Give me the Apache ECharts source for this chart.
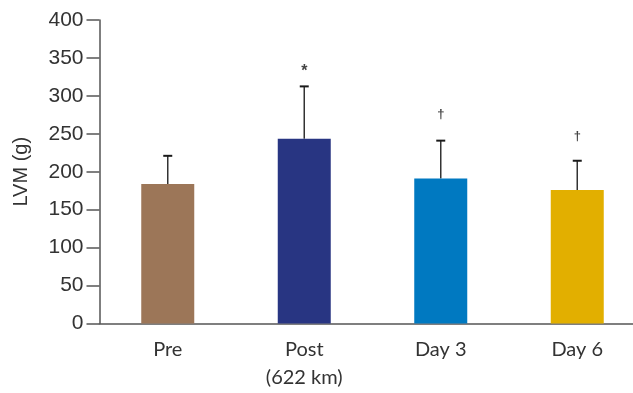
<!DOCTYPE html>
<html><head><meta charset="utf-8">
<script src="https://cdn.jsdelivr.net/npm/echarts@6/dist/echarts.min.js"></script>
<style>html,body{margin:0;padding:0;background:#fff}#c{width:633px;height:393px}</style>
</head><body><div id="c"></div>
<script>
var categories = ['Pre', 'Post\n(622 km)', 'Day 3', 'Day 6'];
var means = [184, 243.5, 191, 176];
var errTops = [221, 312.5, 241, 214.5];
var marks = ['', '*', '\u2020', '\u2020'];
var markY = [0, 332, 275, 246];
var colors = ['#9C7658', '#283582', '#0079C1', '#E2AF00'];
var yTicks = [0, 50, 100, 150, 200, 250, 300, 350, 400];

var chart = echarts.init(document.getElementById('c'));
chart.setOption({
  animation: false,
  grid: { left: 99.5, top: 20, width: 546, height: 303.5, containLabel: false, outerBoundsMode: 'none' },
  xAxis: {
    type: 'category', data: categories,
    axisLine: { lineStyle: { color: '#555', width: 1.5 } },
    axisTick: { alignWithLabel: true, length: 8, lineStyle: { color: '#444', width: 1.5 } },
    axisLabel: { color: '#333', fontSize: 20, fontFamily: 'Lato', margin: 12, lineHeight: 28 }
  },
  yAxis: {
    type: 'value', min: 0, max: 400, interval: 50,
    name: 'LVM (g)', nameLocation: 'middle', nameGap: 68,
    nameTextStyle: { fontSize: 20, color: '#333', fontFamily: 'Liberation Sans' },
    axisLine: { show: true, lineStyle: { color: '#555', width: 1.5 } },
    axisTick: { show: true, inside: false, length: 13, lineStyle: { color: '#555', width: 1.5 } },
    axisLabel: { color: '#333', fontSize: 21, fontFamily: 'Liberation Sans', margin: 16 },
    splitLine: { show: false }
  },
  series: [
    {
      type: 'bar', barWidth: 53,
      data: means.map(function (v, i) { return { value: v, itemStyle: { color: colors[i] } }; }),
      z: 2
    },
    {
      type: 'custom', z: 1,
      data: means.map(function (v, i) { return [i, v, errTops[i]]; }),
      renderItem: function (params, api) {
        var lo = api.coord([api.value(0), api.value(1)]);
        var hi = api.coord([api.value(0), api.value(2)]);
        return {
          type: 'group', children: [
            { type: 'line', shape: { x1: lo[0], y1: lo[1], x2: hi[0], y2: hi[1] }, style: { stroke: '#333', lineWidth: 1.5 } },
            { type: 'line', shape: { x1: hi[0] - 4.5, y1: hi[1], x2: hi[0] + 4.5, y2: hi[1] }, style: { stroke: '#1a1a1a', lineWidth: 2 } }
          ]
        };
      }
    },
    {
      type: 'custom', z: 3,
      data: marks.map(function (m, i) { return [i, markY[i]]; }),
      renderItem: function (params, api) {
        var p = api.coord([api.value(0), api.value(1)]);
        var m = marks[params.dataIndex];
        if (!m) return null;
        return { type: 'text', style: { text: m, x: p[0], y: p[1], align: 'center', verticalAlign: 'middle',
          fontSize: m === '*' ? 16 : 13, fill: '#444', fontFamily: 'Liberation Sans', fontWeight: 'bold' } };
      }
    }
  ]
});
</script></body></html>
